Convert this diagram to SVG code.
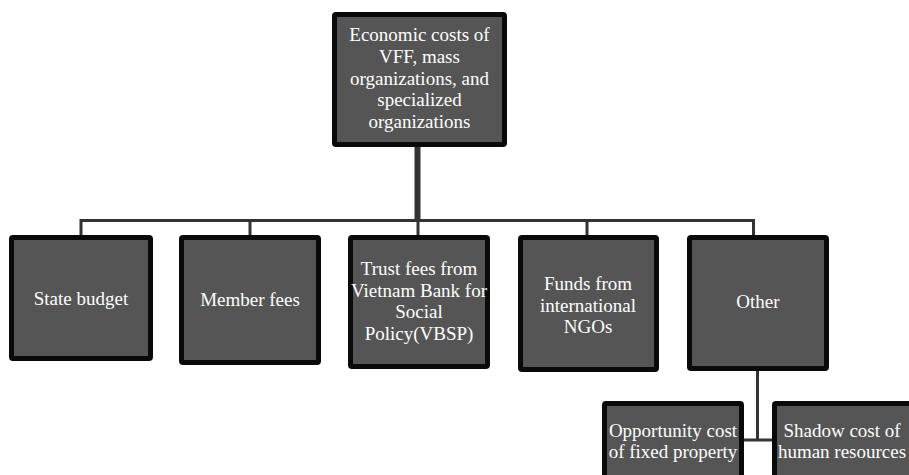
<svg xmlns="http://www.w3.org/2000/svg" width="909" height="475" viewBox="0 0 909 475">
<style>
.box{fill:#555555;stroke:#0a0a0a;stroke-width:5;}
.t{font-family:"Liberation Serif","Times New Roman",serif;font-size:19px;fill:#ffffff;text-anchor:middle;}
.c{stroke:#333333;stroke-width:3;fill:none;}
</style>
<rect width="909" height="475" fill="#ffffff"/>
<g id="connectors">
<line x1="417.5" y1="146" x2="417.5" y2="222" stroke="#333333" stroke-width="6"/>
<polyline class="c" points="81,236 81,220.5 753.5,220.5 753.5,236"/>
<line class="c" x1="250" y1="220.5" x2="250" y2="236"/>
<line class="c" x1="418" y1="220.5" x2="418" y2="236"/>
<line class="c" x1="587" y1="220.5" x2="587" y2="236"/>
<line class="c" x1="757.5" y1="370" x2="757.5" y2="440"/>
<line class="c" x1="743" y1="440" x2="773" y2="440"/>
</g>
<g id="n-top">
<rect class="box" x="334.5" y="14.5" width="170" height="130" rx="1.5"/>
<text class="t" x="419.5" y="41">Economic costs of</text>
<text class="t" x="419.5" y="63">VFF, mass</text>
<text class="t" x="419.5" y="84.5">organizations, and</text>
<text class="t" x="419.5" y="106">specialized</text>
<text class="t" x="419.5" y="128">organizations</text>
</g>
<g id="n-state">
<rect class="box" x="11.5" y="237.5" width="139" height="121" rx="1.5"/>
<text class="t" x="81" y="305">State budget</text>
</g>
<g id="n-member">
<rect class="box" x="181.5" y="237.5" width="137" height="125" rx="1.5"/>
<text class="t" x="250" y="306">Member fees</text>
</g>
<g id="n-trust">
<rect class="box" x="350.5" y="237.5" width="137" height="129" rx="1.5"/>
<text class="t" x="419" y="275">Trust fees from</text>
<text class="t" x="419" y="297">Vietnam Bank for</text>
<text class="t" x="419" y="318">Social</text>
<text class="t" x="419" y="340">Policy(VBSP)</text>
</g>
<g id="n-funds">
<rect class="box" x="520.5" y="237.5" width="136" height="132" rx="1.5"/>
<text class="t" x="588" y="290">Funds from</text>
<text class="t" x="588" y="311.5">international</text>
<text class="t" x="588" y="333">NGOs</text>
</g>
<g id="n-other">
<rect class="box" x="689.5" y="237.5" width="137" height="131" rx="1.5"/>
<text class="t" x="758" y="308">Other</text>
</g>
<g id="n-opportunity">
<rect class="box" x="604.5" y="403.5" width="137" height="90" rx="1.5"/>
<text class="t" x="673" y="437">Opportunity cost</text>
<text class="t" x="673" y="458">of fixed property</text>
</g>
<g id="n-shadow">
<rect class="box" x="774.5" y="403.5" width="140" height="90" rx="1.5"/>
<text class="t" x="842" y="437">Shadow cost of</text>
<text class="t" x="842" y="458">human resources</text>
</g>
</svg>
